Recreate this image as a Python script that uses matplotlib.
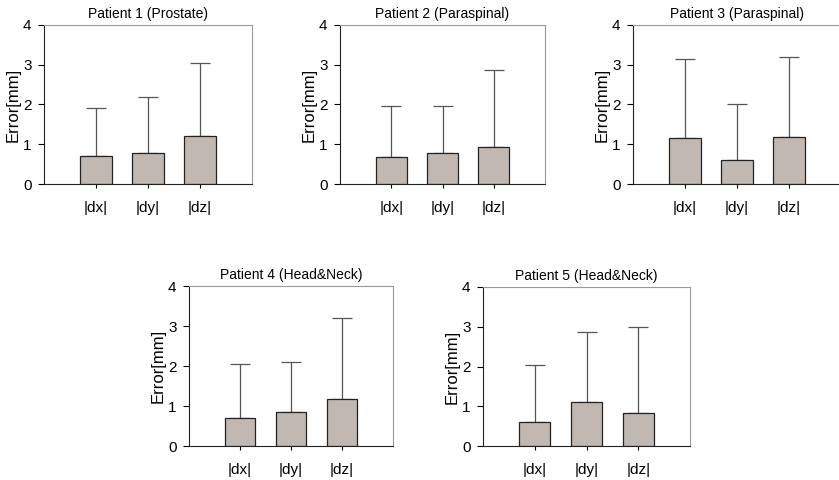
import matplotlib.pyplot as plt

plt.rcParams['font.family'] = ['Liberation Sans', 'DejaVu Sans']

components = ["|dx|", "|dy|", "|dz|"]
titles = ["Patient 1 (Prostate)", "Patient 2 (Paraspinal)", "Patient 3 (Paraspinal)",
          "Patient 4 (Head&Neck)", "Patient 5 (Head&Neck)"]

# mean error per component
p1_mean = [0.70, 0.78, 1.20]
p2_mean = [0.67, 0.78, 0.93]
p3_mean = [1.15, 0.60, 1.17]
p4_mean = [0.70, 0.86, 1.17]
p5_mean = [0.60, 1.10, 0.83]

# upper error (standard deviation)
p1_err = [1.20, 1.41, 1.85]
p2_err = [1.30, 1.19, 1.94]
p3_err = [2.00, 1.42, 2.03]
p4_err = [1.35, 1.23, 2.03]
p5_err = [1.43, 1.78, 2.17]

means = [p1_mean, p2_mean, p3_mean, p4_mean, p5_mean]
errs = [p1_err, p2_err, p3_err, p4_err, p5_err]

W, H = 839, 480
# axes boxes in pixels: left, top, right, bottom
boxes = [(44, 25, 252, 184), (340, 25, 545, 184), (633, 25, 841, 184),
         (189, 286, 393, 446), (483, 287, 690, 446)]

fig = plt.figure(figsize=(W / 100, H / 100), dpi=100)

for i in range(5):
    l, t, r, b = boxes[i]
    ax = fig.add_axes([l / W, 1 - b / H, (r - l) / W, (b - t) / H])
    x = [1, 2, 3]
    ax.bar(x, means[i], width=0.6, color="#c1b8b2", edgecolor="#222222", linewidth=0.9, zorder=2)
    ax.errorbar(x, means[i], yerr=[[0, 0, 0], errs[i]], fmt="none", ecolor="#555555",
                elinewidth=0.9, capsize=7, capthick=0.9, zorder=1)
    ax.set_xlim(0, 4)
    ax.set_ylim(0, 4)
    ax.set_yticks([0, 1, 2, 3, 4])
    ax.set_xticks(x)
    ax.set_xticklabels(components, fontsize=11)
    ax.tick_params(axis="y", labelsize=11, length=4, width=0.8, pad=5)
    ax.tick_params(axis="x", length=3, width=0.8, pad=9)
    ax.set_ylabel("Error[mm]", fontsize=12, labelpad=2)
    ax.set_title(titles[i], fontsize=10, pad=5)
    ax.spines["top"].set_color("#999999")
    ax.spines["right"].set_color("#999999")
    ax.spines["left"].set_color("#222222")
    ax.spines["bottom"].set_color("#222222")

plt.savefig("out.png", dpi=100)
